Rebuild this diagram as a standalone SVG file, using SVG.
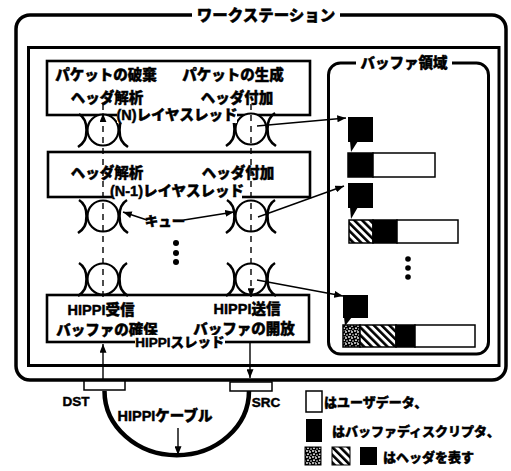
<svg xmlns="http://www.w3.org/2000/svg" width="511" height="471" viewBox="0 0 511 471">
<style>
text{font-family:"Liberation Sans","Noto Sans CJK JP",sans-serif;font-weight:900;fill:#000;stroke:#000;stroke-width:0.45;dominant-baseline:central}
.l{font-size:14.5px;text-anchor:middle}
.s{font-size:13.5px;text-anchor:middle}
.g{font-size:13px;text-anchor:start}
.box{fill:#fff;stroke:#000;stroke-width:2.6}
.q{fill:none;stroke:#000;stroke-width:2.6}
.bg{fill:#fff;stroke:none}
.dash{stroke:#000;stroke-width:1.4;stroke-dasharray:6 5;fill:none}
.sol{stroke:#000;stroke-width:1.4;fill:none}
.blk{fill:#000}
.cell{stroke:#000;stroke-width:1.5}
</style>
<defs>
<marker id="ah" viewBox="0 0 10 8" refX="10" refY="4" markerWidth="9" markerHeight="7" orient="auto" markerUnits="userSpaceOnUse">
<path d="M0,0 L10,4 L0,8 z" fill="#000"/>
</marker>
<pattern id="hatch" width="5.5" height="5.5" patternUnits="userSpaceOnUse" patternTransform="rotate(-45)">
<rect width="5.5" height="5.5" fill="#fff"/>
<rect width="2.6" height="5.5" fill="#000"/>
</pattern>
<pattern id="dots" width="6" height="6" patternUnits="userSpaceOnUse">
<rect width="6" height="6" fill="#000"/>
<circle cx="1" cy="1" r="0.9" fill="#fff"/>
<circle cx="4" cy="2" r="0.9" fill="#fff"/>
<circle cx="2" cy="4.2" r="0.9" fill="#fff"/>
<circle cx="5" cy="5" r="0.8" fill="#fff"/>
<circle cx="3.2" cy="0.2" r="0.6" fill="#fff"/>
</pattern>
<g id="queue">
<circle r="15.5" fill="#fff" stroke="#000" stroke-width="2.2"/>
<path class="q" d="M-24,-16 C-19,-13 -16.5,-9 -16.5,0 C-16.5,9 -19,13 -25,17"/>
<path class="q" d="M24,-16 C19,-13 16.5,-9 16.5,0 C16.5,9 19,13 25,17"/>
</g>
</defs>

<g id="workstation">
<rect x="16" y="15" width="490" height="365" rx="14" fill="#fff" stroke="#000" stroke-width="3.5"/>
<rect class="bg" x="192" y="5" width="148" height="20"/>
<text class="l" x="266" y="15" style="font-size:15.5px">ワークステーション</text>
</g>

<g id="inner-box">
<rect x="28.5" y="47.5" width="470.5" height="318" fill="none" stroke="#000" stroke-width="3"/>
</g>

<g id="buffer-area">
<rect x="328.5" y="63" width="160" height="291" rx="12" fill="#fff" stroke="#000" stroke-width="3"/>
<rect class="bg" x="356" y="53" width="96" height="20"/>
<text class="l" x="404" y="63">バッファ領域</text>
</g>

<g id="n-layer">
<rect class="box" x="47" y="61" width="263" height="54"/>
<text class="l" x="106" y="75">パケットの破棄</text>
<text class="l" x="233" y="75">パケットの生成</text>
<text class="l" x="107" y="98">ヘッダ解析</text>
<text class="l" x="237" y="98">ヘッダ付加</text>
</g>

<g id="n1-layer">
<rect class="box" x="48" y="152" width="262" height="45"/>
<text class="l" x="107" y="173">ヘッダ解析</text>
<text class="l" x="238" y="173">ヘッダ付加</text>
</g>

<g id="hippi-thread">
<rect class="box" x="47" y="295" width="262" height="47"/>
<text class="l" x="101" y="310">HIPPI受信</text>
<text class="l" x="107" y="330">バッファの確保</text>
<text class="l" x="247" y="309">HIPPI送信</text>
<text class="l" x="244" y="329">バッファの開放</text>
</g>

<g id="queue-n-left"><use href="#queue" x="103" y="130"/></g>
<g id="queue-n-right"><use href="#queue" x="251" y="129"/></g>
<g id="queue-n1-left"><use href="#queue" x="103" y="216"/></g>
<g id="queue-n1-right"><use href="#queue" x="251" y="216"/></g>
<g id="queue-hippi-left"><use href="#queue" x="103" y="279"/></g>
<g id="queue-hippi-right"><use href="#queue" x="251" y="279"/></g>

<g id="labels">
<rect class="bg" x="117" y="108" width="120" height="15"/>
<text class="l" x="177" y="115">(N)レイヤスレッド</text>
<rect class="bg" x="112" y="184" width="130" height="15"/>
<text class="l" x="177" y="191">(N-1)レイヤスレッド</text>
<rect class="bg" x="135" y="335" width="90" height="15"/>
<text class="s" x="180" y="342">HIPPIスレッド</text>
<text class="s" x="165" y="221">キュー</text>
</g>

<g id="dots-mid">
<circle cx="176" cy="243" r="3" fill="#000"/>
<circle cx="176" cy="253" r="3" fill="#000"/>
<circle cx="176" cy="262" r="3" fill="#000"/>
</g>

<g id="buffers">
<rect class="blk" x="348" y="117" width="25" height="25"/>
<path class="blk" d="M350,141 L358,141 L351,152 z"/>
<rect class="cell" x="348" y="153" width="25" height="24" fill="#000"/>
<rect class="cell" x="373" y="153" width="62" height="24" fill="#fff"/>

<rect class="blk" x="348" y="183" width="25" height="25"/>
<path class="blk" d="M350,207 L358,207 L351,219 z"/>
<rect class="cell" x="349" y="220" width="24" height="23" fill="url(#hatch)"/>
<rect class="cell" x="373" y="220" width="24" height="23" fill="#000"/>
<rect class="cell" x="397" y="220" width="61" height="23" fill="#fff"/>

<circle cx="408" cy="259" r="2.8" fill="#000"/>
<circle cx="408" cy="268" r="2.8" fill="#000"/>
<circle cx="408" cy="277" r="2.8" fill="#000"/>

<rect class="blk" x="343" y="295" width="25" height="23"/>
<path class="blk" d="M344,317 L352,317 L345,326 z"/>
<rect class="cell" x="343" y="325" width="17" height="22" fill="url(#dots)"/>
<rect class="cell" x="360" y="325" width="36" height="22" fill="url(#hatch)"/>
<rect class="cell" x="396" y="325" width="19" height="22" fill="#000"/>
<rect class="cell" x="415" y="325" width="60" height="22" fill="#fff"/>
</g>

<g id="connectors">
<line class="dash" x1="103" y1="104" x2="103" y2="300"/>
<line class="sol" x1="103" y1="120" x2="103" y2="113.5" marker-end="url(#ah)"/>
<line class="dash" x1="251" y1="104" x2="251" y2="290"/>
<line class="sol" x1="251" y1="289" x2="251" y2="297" marker-end="url(#ah)"/>
<line class="sol" x1="103" y1="381" x2="103" y2="344" marker-end="url(#ah)"/>
<line class="sol" x1="250" y1="343" x2="250" y2="378" marker-end="url(#ah)"/>
<line class="sol" x1="257" y1="126" x2="346" y2="118" marker-end="url(#ah)"/>
<line class="sol" x1="258" y1="217" x2="344" y2="186" marker-end="url(#ah)"/>
<line class="sol" x1="257" y1="280" x2="343" y2="296" marker-end="url(#ah)"/>
<line class="sol" x1="147" y1="220" x2="123" y2="212" marker-end="url(#ah)"/>
<line class="sol" x1="184" y1="220" x2="234" y2="212" marker-end="url(#ah)"/>
</g>

<g id="cable">
<path d="M104.5,391 A72 64 0 0 0 249,391" fill="none" stroke="#000" stroke-width="4.5"/>
<rect x="84" y="381" width="41" height="9" fill="#fff" stroke="#000" stroke-width="1.5"/>
<rect x="230" y="382" width="42" height="9" fill="#fff" stroke="#000" stroke-width="1.5"/>
<text class="s" x="76" y="401">DST</text>
<text class="s" x="266" y="402">SRC</text>
<text class="l" x="165" y="416">HIPPIケーブル</text>
<line class="sol" x1="178" y1="428" x2="178" y2="455" marker-end="url(#ah)"/>
</g>

<g id="legend">
<rect x="306" y="391" width="16" height="21" fill="#fff" stroke="#000" stroke-width="1.5"/>
<text class="g" x="324" y="402">はユーザデータ、</text>
<rect x="306" y="419" width="16" height="23" fill="#000"/>
<text class="g" x="332" y="431">はバッファディスクリプタ、</text>
<rect x="305" y="447" width="16" height="18" fill="url(#dots)" stroke="#000" stroke-width="1"/>
<rect x="332" y="447" width="18" height="18" fill="url(#hatch)" stroke="#000" stroke-width="1"/>
<rect x="360" y="447" width="17" height="18" fill="#000"/>
<text class="g" x="383" y="457">はヘッダを表す</text>
</g>
</svg>
